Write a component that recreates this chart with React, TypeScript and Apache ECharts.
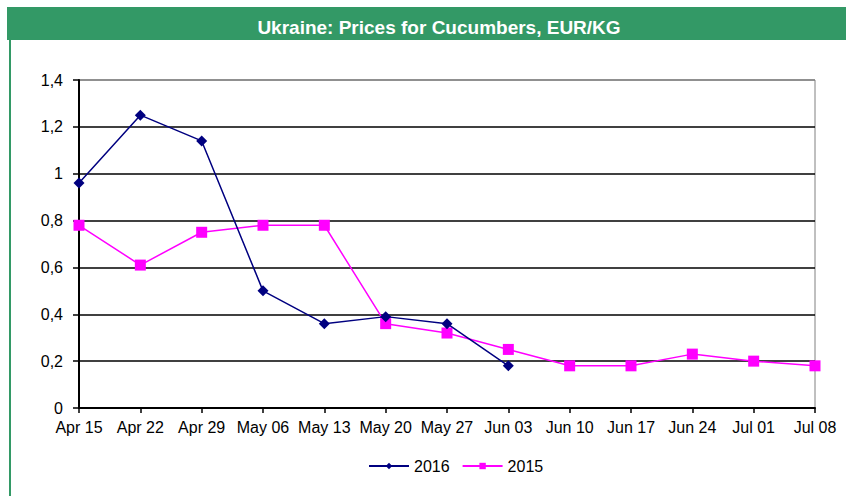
import React, { useEffect, useRef } from "react";
import * as echarts from "echarts";

const categories = ["Apr 15", "Apr 22", "Apr 29", "May 06", "May 13", "May 20", "May 27", "Jun 03", "Jun 10", "Jun 17", "Jun 24", "Jul 01", "Jul 08"];
const values2016: (number | null)[] = [0.96, 1.25, 1.14, 0.5, 0.36, 0.39, 0.36, 0.18, null, null, null, null, null];
const values2015: number[] = [0.78, 0.61, 0.75, 0.78, 0.78, 0.36, 0.32, 0.25, 0.18, 0.18, 0.23, 0.2, 0.18];
const yMin = 0;
const yMax = 1.4;
const yInterval = 0.2;

export default function App() {
  const ref = useRef<HTMLDivElement>(null);
  useEffect(() => {
    if (!ref.current) return;
    const chart = echarts.init(ref.current, null, { renderer: "svg" });
    const font = "'Liberation Sans', Arial, sans-serif";
    chart.setOption({
      animation: false,
      backgroundColor: "#ffffff",
      textStyle: { fontFamily: font },
      graphic: [
        { type: "rect", shape: { x: 7, y: 7, width: 839, height: 33 }, style: { fill: "#339966" }, z: 0 },
        { type: "rect", shape: { x: 9, y: 40, width: 2, height: 456 }, style: { fill: "#339966" }, z: 0 },
      ],
      title: {
        text: "Ukraine: Prices for Cucumbers, EUR/KG",
        left: 434,
        textAlign: "center",
        top: 13,
        textStyle: { color: "#ffffff", fontSize: 19, fontWeight: "bold", fontFamily: font },
      },
      grid: {
        left: 79,
        right: 31,
        top: 80,
        bottom: 88,
        show: true,
        borderColor: "#808080",
        borderWidth: 1,
        backgroundColor: "transparent",
      },
      legend: {
        left: 368,
        top: 458,
        padding: 0,
        itemWidth: 40,
        itemHeight: 8,
        itemGap: 12,
        textStyle: { fontSize: 16, color: "#000", fontFamily: font },
        data: ["2016", "2015"],
      },
      xAxis: {
        type: "category",
        data: categories,
        boundaryGap: false,
        axisLine: { lineStyle: { color: "#000", width: 2 } },
        axisTick: { show: true, alignWithLabel: true, length: 5, lineStyle: { color: "#000", width: 1.5 } },
        axisLabel: { color: "#000", fontSize: 16, margin: 11, interval: 0, fontFamily: font },
        splitLine: { show: false },
      },
      yAxis: {
        type: "value",
        min: yMin,
        max: yMax,
        interval: yInterval,
        axisLine: { show: true, lineStyle: { color: "#000", width: 2 } },
        axisTick: { show: true, length: 6, lineStyle: { color: "#000", width: 1.5 } },
        axisLabel: {
          color: "#000",
          fontSize: 16,
          margin: 16,
          fontFamily: font,
          formatter: (v: number) => String(Math.round(v * 10) / 10).replace(".", ","),
        },
        splitLine: {
          show: true,
          lineStyle: { color: ["#000", "#000", "#000", "#000", "#000", "#000", "#000", "#808080"], width: 1.5 },
        },
      },
      series: [
        {
          name: "2016",
          type: "line",
          data: values2016,
          symbol: "diamond",
          symbolSize: 11,
          connectNulls: false,
          lineStyle: { color: "#000080", width: 1.5 },
          itemStyle: { color: "#000080" },
          z: 3,
        },
        {
          name: "2015",
          type: "line",
          data: values2015,
          symbol: "rect",
          symbolSize: 11,
          lineStyle: { color: "#ff00ff", width: 1.5 },
          itemStyle: { color: "#ff00ff" },
          z: 2,
        },
      ],
    });
    return () => chart.dispose();
  }, []);
  return <div ref={ref} style={{ position: "fixed", left: 0, top: 0, width: 846, height: 496 }} />;
}
